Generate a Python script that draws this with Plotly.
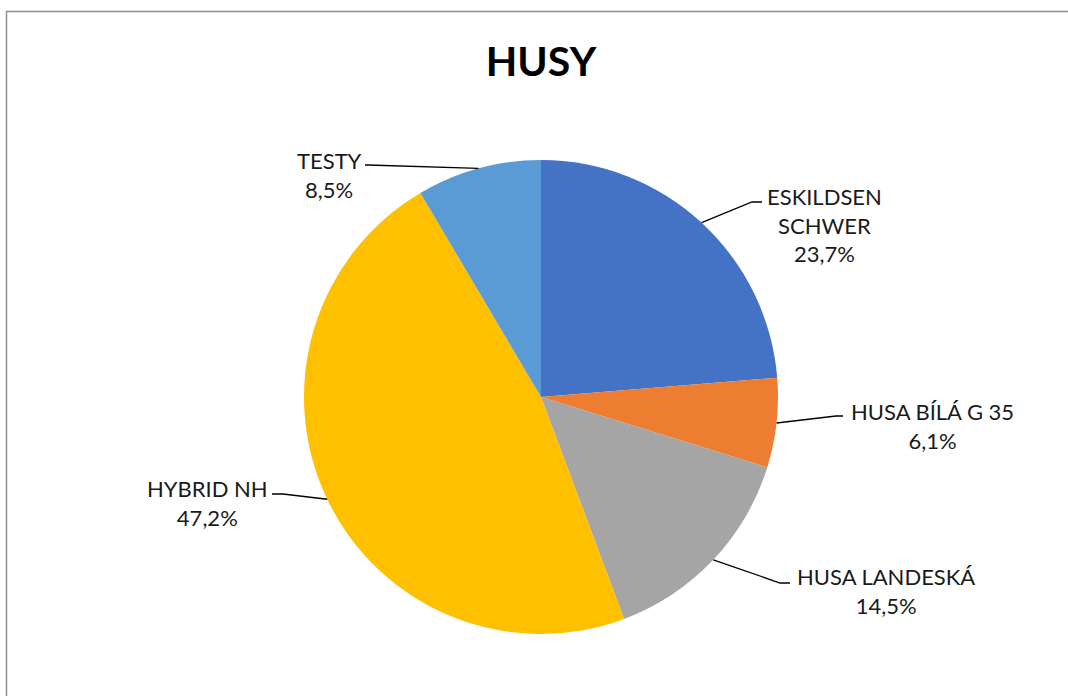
import math
import plotly.graph_objects as go

# data
labels = ["ESKILDSEN SCHWER", "HUSA BÍLÁ G 35", "HUSA LANDESKÁ", "HYBRID NH", "TESTY"]
values = [23.7, 6.1, 14.5, 47.2, 8.5]
label_text = ["ESKILDSEN<br>SCHWER<br>23,7%", "HUSA BÍLÁ G 35<br>6,1%",
              "HUSA LANDESKÁ<br>14,5%", "HYBRID NH<br>47,2%", "TESTY<br>8,5%"]
colors = ["#4472C4", "#ED7D31", "#A5A5A5", "#FFC000", "#5B9BD5"]

W, H = 1068, 696
CX, CY, R = 541, 397, 237  # pie centre / radius in px

# label placement (px): text centre, then elbow and end of the leader line
label_pos = [(824, 225), (932, 426), (886, 591), (207, 503), (329, 175)]
leader = [[(752, 202), (762, 202)], [(836, 416), (843, 416)],
          [(780, 583), (790, 583)], [(283, 494), (272, 494)],
          [(368, 165), (365, 165)]]

def px(x, y):
    return x / W, 1 - y / H

fig = go.Figure(go.Pie(
    labels=labels, values=values, sort=False, direction="clockwise",
    rotation=0, textinfo="none", hoverinfo="label+percent",
    marker=dict(colors=colors, line=dict(width=0)),
    domain=dict(x=[(CX - R) / W, (CX + R) / W], y=[1 - (CY + R) / H, 1 - (CY - R) / H]),
))

total = sum(values)
cum = 0
shapes = []
annotations = []
for i, v in enumerate(values):
    mid = (cum + v / 2) / total * 2 * math.pi
    cum += v
    ex, ey = CX + R * math.sin(mid), CY - R * math.cos(mid)
    pts = [(ex, ey)] + leader[i]
    path = "M " + " L ".join("%f,%f" % px(*p) for p in pts)
    shapes.append(dict(type="path", path=path, xref="paper", yref="paper",
                       line=dict(color="black", width=1.3)))
    lx, ly = px(*label_pos[i])
    annotations.append(dict(text=label_text[i], x=lx, y=ly, xref="paper", yref="paper",
                            showarrow=False, xanchor="center", yanchor="middle",
                            font=dict(family="Lato", size=22, color="#1a1a1a")))

# chart border (right and bottom edges fall outside the picture)
shapes.append(dict(type="rect", xref="paper", yref="paper",
                   x0=6.5 / W, x1=(W + 5) / W, y0=-5 / H, y1=1 - 11.5 / H,
                   line=dict(color="#8f8f8f", width=1.5), fillcolor="rgba(0,0,0,0)"))

fig.update_layout(
    width=W, height=H, margin=dict(l=0, r=0, t=0, b=0),
    paper_bgcolor="white", plot_bgcolor="white", showlegend=False,
    title=dict(text="<b>HUSY</b>", x=541 / W, xanchor="center", y=1 - 62 / H, yanchor="middle",
               font=dict(family="Lato", size=41, color="black")),
    shapes=shapes, annotations=annotations,
)

fig.write_html("out.html", config={"displayModeBar": False},
               post_script="document.body.style.margin='0';")
